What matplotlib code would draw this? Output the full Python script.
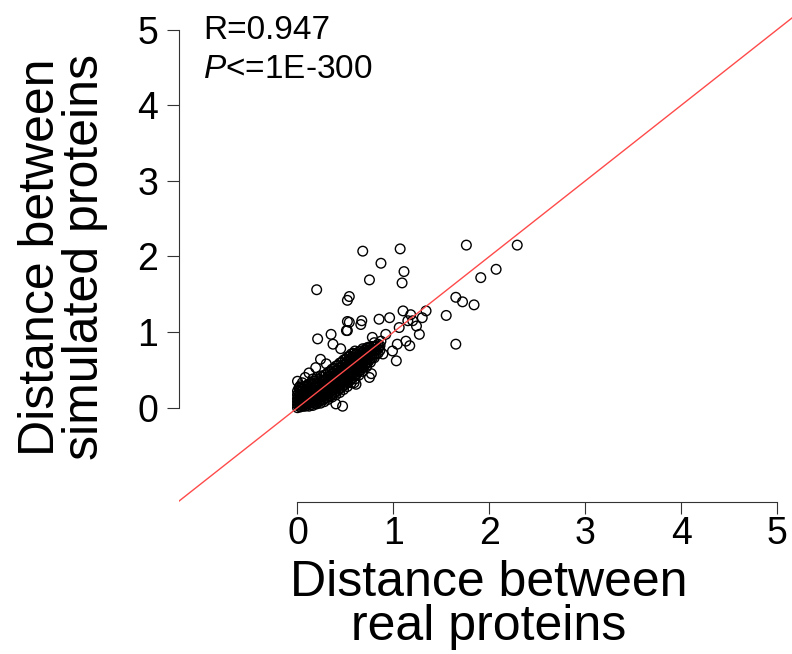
import matplotlib
matplotlib.use("Agg")
import matplotlib.pyplot as plt

plt.rcParams["font.family"] = ["Liberation Sans", "DejaVu Sans"]
plt.rcParams["mathtext.fontset"] = "custom"
plt.rcParams["mathtext.rm"] = "Liberation Sans"
plt.rcParams["mathtext.it"] = "Liberation Sans:italic"

# dense core along the diagonal, read column by column (real distance -> simulated distances)
core_col_x = [0.00, 0.015, 0.03, 0.045, 0.06, 0.08, 0.10, 0.12, 0.14, 0.16,
              0.18, 0.20, 0.22, 0.24, 0.26, 0.28, 0.30, 0.32, 0.34, 0.36,
              0.38, 0.40, 0.42, 0.44, 0.46, 0.48, 0.50, 0.52, 0.54, 0.56,
              0.58, 0.60, 0.62, 0.64, 0.66, 0.68, 0.70, 0.72, 0.74, 0.76,
              0.78, 0.80, 0.82, 0.84, 0.86]
core_col_y = [
    [0.00, 0.04, 0.08, 0.12, 0.17, 0.22],
    [0.02, 0.06, 0.11, 0.15, 0.20, 0.26],
    [0.01, 0.05, 0.09, 0.13, 0.18, 0.24, 0.29],
    [0.03, 0.07, 0.12, 0.16, 0.22, 0.27],
    [0.02, 0.06, 0.10, 0.15, 0.20, 0.25],
    [0.02, 0.05, 0.09, 0.13, 0.17, 0.22, 0.28],
    [0.03, 0.07, 0.11, 0.15, 0.19, 0.24, 0.30],
    [0.02, 0.06, 0.10, 0.14, 0.19, 0.25, 0.31],
    [0.04, 0.08, 0.12, 0.17, 0.22, 0.27, 0.33],
    [0.03, 0.07, 0.11, 0.15, 0.20, 0.25, 0.31, 0.38],
    [0.06, 0.10, 0.14, 0.19, 0.24, 0.29, 0.35],
    [0.05, 0.09, 0.13, 0.17, 0.22, 0.27, 0.33, 0.40],
    [0.08, 0.12, 0.17, 0.22, 0.27, 0.32, 0.38],
    [0.06, 0.10, 0.15, 0.20, 0.25, 0.30, 0.36, 0.42],
    [0.10, 0.15, 0.20, 0.25, 0.30, 0.35, 0.41],
    [0.08, 0.12, 0.17, 0.22, 0.27, 0.32, 0.37, 0.43],
    [0.13, 0.18, 0.23, 0.28, 0.33, 0.38, 0.44],
    [0.11, 0.15, 0.20, 0.25, 0.30, 0.36, 0.41, 0.47],
    [0.16, 0.21, 0.26, 0.31, 0.36, 0.42, 0.48],
    [0.14, 0.18, 0.23, 0.28, 0.33, 0.39, 0.45, 0.51],
    [0.19, 0.24, 0.29, 0.34, 0.40, 0.46, 0.52],
    [0.17, 0.21, 0.26, 0.31, 0.37, 0.43, 0.49, 0.55],
    [0.23, 0.28, 0.33, 0.38, 0.44, 0.50, 0.56],
    [0.20, 0.25, 0.30, 0.35, 0.41, 0.47, 0.53, 0.59],
    [0.27, 0.32, 0.37, 0.42, 0.48, 0.54, 0.60],
    [0.24, 0.29, 0.34, 0.39, 0.45, 0.51, 0.57, 0.63],
    [0.31, 0.36, 0.41, 0.46, 0.52, 0.58, 0.64],
    [0.28, 0.33, 0.38, 0.43, 0.49, 0.55, 0.61, 0.67],
    [0.35, 0.40, 0.45, 0.51, 0.57, 0.63, 0.68],
    [0.33, 0.38, 0.43, 0.48, 0.54, 0.60, 0.66, 0.71],
    [0.40, 0.45, 0.50, 0.56, 0.62, 0.67, 0.72],
    [0.38, 0.43, 0.48, 0.53, 0.59, 0.64, 0.70, 0.75],
    [0.45, 0.50, 0.55, 0.61, 0.66, 0.71],
    [0.43, 0.48, 0.53, 0.58, 0.63, 0.68, 0.74],
    [0.50, 0.55, 0.60, 0.65, 0.70, 0.75],
    [0.48, 0.53, 0.58, 0.63, 0.68, 0.73, 0.78],
    [0.56, 0.61, 0.66, 0.71, 0.76],
    [0.54, 0.59, 0.64, 0.69, 0.74, 0.79],
    [0.61, 0.66, 0.71, 0.76, 0.80],
    [0.60, 0.65, 0.70, 0.75, 0.80],
    [0.66, 0.71, 0.76, 0.81],
    [0.66, 0.71, 0.76, 0.81, 0.86],
    [0.71, 0.76, 0.82],
    [0.72, 0.78, 0.84],
    [0.76, 0.82],
]

# looser points around the core
fringe_x = [0.35, 0.51, 0.54, 0.66, 0.37, 0.24, 0.00, 0.12, 0.75, 0.61,
            0.40, 1.03, 0.85, 1.10, 1.34, 1.13, 1.06, 1.20, 1.27, 0.92,
            0.78, 0.68, 0.61, 0.19, 0.02, 0.47, 0.85, 0.96, 1.04, 1.17,
            0.99, 0.89, 0.52, 0.52, 0.67, 0.21, 0.77, 0.59, 1.18, 1.30,
            1.24, 1.15, 0.87, 0.08, 0.05, 0.30, 0.45]
fringe_y = [0.97, 1.02, 1.13, 1.10, 0.84, 0.64, 0.35, 0.46, 0.40, 0.31,
            0.05, 0.62, 0.80, 1.28, 1.28, 0.88, 1.06, 1.15, 0.97, 0.97,
            0.93, 0.58, 0.66, 0.53, 0.27, 0.02, 1.17, 1.19, 0.84, 0.82,
            0.75, 0.71, 1.14, 1.02, 1.15, 0.91, 0.45, 0.33, 1.23, 1.19,
            1.08, 1.15, 0.88, 0.40, 0.33, 0.58, 0.78]

# isolated outliers
outlier_x = [0.68, 1.07, 1.76, 2.29, 0.87, 1.11, 0.75, 1.09, 0.20, 0.54,
             0.52, 2.07, 1.91, 1.65, 1.72, 1.84, 1.55, 1.65]
outlier_y = [2.07, 2.10, 2.15, 2.15, 1.91, 1.80, 1.69, 1.65, 1.56, 1.47,
             1.42, 1.83, 1.72, 1.46, 1.40, 1.36, 1.22, 0.84]

ticks = [0, 1, 2, 3, 4, 5]

core_x = [cx for cx, col in zip(core_col_x, core_col_y) for _ in col]
core_y = [cy for col in core_col_y for cy in col]

W, H = 792, 654
fig = plt.figure(figsize=(W / 100, H / 100), dpi=100)
# R-style plot region: axes drawn at the region edge, spanning only the ticks
left, right, top, bottom = 178.5, 800.3, 11.4, 501.5
ax = fig.add_axes([left / W, 1 - bottom / H, (right - left) / W, (bottom - top) / H])
ax.set_xlim(-1.24, 5.24)
ax.set_ylim(-1.24, 5.24)

xs = core_x + fringe_x + outlier_x
ys = core_y + fringe_y + outlier_y
ax.scatter(xs, ys, s=48, facecolors="none", edgecolors="black", linewidths=1.0, zorder=2)
ax.axline((0, 0), (1, 1), color="#ff4a4a", lw=1.0, zorder=3)

for side in ("top", "right"):
    ax.spines[side].set_visible(False)
for side in ("left", "bottom"):
    ax.spines[side].set_bounds(0, 5)
    ax.spines[side].set_color("#333333")
    ax.spines[side].set_linewidth(0.8)

ax.set_xticks(ticks)
ax.set_yticks(ticks)
ax.tick_params(axis="both", direction="out", length=8.5, width=0.8, color="#333333",
               labelsize=27)
ax.tick_params(axis="x", pad=2)
ax.tick_params(axis="y", pad=6)

fig.text(489 / W, 1 - 605 / H, "Distance between\nreal proteins", fontsize=36,
         ha="center", va="center", multialignment="center", linespacing=0.95)
fig.text(63 / W, 1 - 257 / H, "Distance between\nsimulated proteins", fontsize=36,
         rotation=90, ha="center", va="center", multialignment="center", linespacing=0.95)

fig.text(203 / W, 1 - 39.3 / H, "R=0.947", fontsize=24, va="baseline")
fig.text(203 / W, 1 - 78 / H, r"$\mathit{P}$<=1E-300", fontsize=24, va="baseline")

fig.savefig("out.png", dpi=100)
